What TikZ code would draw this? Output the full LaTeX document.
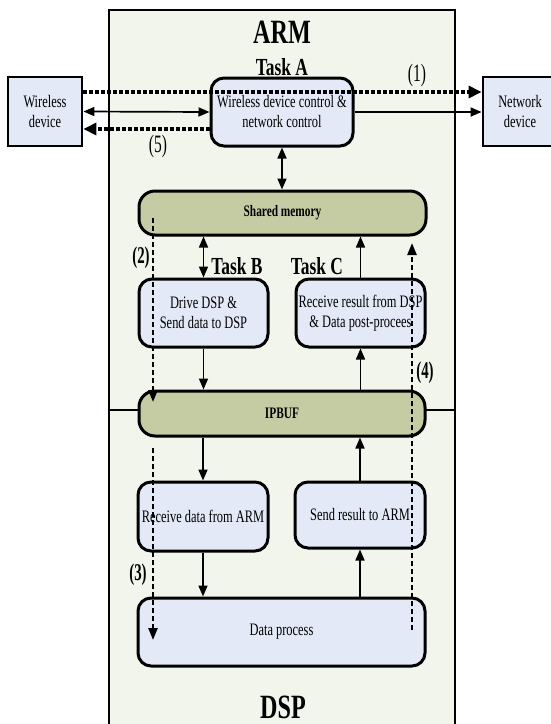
\documentclass[tikz,border=0pt]{standalone}
\usepackage{fontspec}
\setmainfont{Liberation Serif}[FakeStretch=0.71]
\newfontfamily\labfont{Liberation Serif}[FakeStretch=0.62]
\usetikzlibrary{arrows.meta,calc}
\definecolor{outerfill}{HTML}{F2F5EC}
\definecolor{boxblue}{HTML}{E3E9F6}
\definecolor{olivefill}{HTML}{C5CBA2}
\begin{document}
\begin{tikzpicture}[x=1pt,y=-1pt,
  txt/.style={font=\fontsize{17.5}{20}\selectfont, align=center, inner sep=0pt},
  sqbox/.style={draw, line width=2.8pt, fill=boxblue, txt},
  rbox/.style={draw, line width=3pt, fill=boxblue, rounded corners=13pt, txt},
  obox/.style={draw, line width=3pt, fill=olivefill, rounded corners=16pt, inner sep=0pt, font=\fontsize{16}{19}\selectfont\bfseries},
  bigtitle/.style={inner sep=0pt, font=\fontsize{34}{36}\selectfont\bfseries},
  tasktitle/.style={inner sep=0pt, font=\fontsize{24.5}{27}\selectfont\bfseries},
  numlab/.style={inner sep=0pt, font=\labfont\fontsize{25}{28}\selectfont},
  numlabb/.style={inner sep=0pt, font=\labfont\fontsize{24}{27}\selectfont\bfseries},
  sarr/.style={line width=1.7pt, -{Triangle[length=11pt,width=9pt]}},
  sdarr/.style={line width=1.7pt, {Triangle[length=11pt,width=9pt]}-{Triangle[length=11pt,width=9pt]}},
  dotarr/.style={line width=3.4pt, dash pattern=on 3.6pt off 2.4pt, -{Triangle[length=13pt,width=12pt]}},
  dasharr/.style={line width=2.4pt, dash pattern=on 5pt off 3pt, -{Triangle[length=12pt,width=9pt]}}
]
\useasboundingbox (0,0) rectangle (551,724);
\fill[white] (0,0) rectangle (551,724);
\clip (0,0) rectangle (551,724);

% container
\node[draw, line width=2.6pt, fill=outerfill, minimum width=346pt, minimum height=716pt, inner sep=0pt] (outer) at (282,368) {};
\draw[line width=2.6pt] (outer.west |- 0,410) -- (outer.east |- 0,410);

% titles
\node[bigtitle] (arm) at (282,32) {ARM};
\node[tasktitle] (tA) at (282,67) {Task A};
\node[tasktitle] (tB) at (237,266) {Task B};
\node[tasktitle] (tC) at (317,266) {Task C};
\node[bigtitle] (dsp) at (283,707) {DSP};

% boxes
\node[sqbox, minimum width=74pt, minimum height=69pt] (wd) at (45,111.5) {Wireless\\device};
\node[sqbox, minimum width=74pt, minimum height=69pt] (nd) at (520,111.5) {Network\\device};
\node[rbox, minimum width=142pt, minimum height=68pt] (ta) at (282,112) {Wireless device control \&\\network control};
\node[obox, minimum width=287pt, minimum height=44pt] (sm) at (282.5,213) {Shared memory};
\node[rbox, minimum width=129pt, minimum height=68pt] (tb) at (203.5,313) {Drive DSP \&\\Send data to DSP};
\node[rbox, minimum width=129pt, minimum height=68pt] (tc) at (360.5,313) {Receive result from DSP\\\& Data post-procees};
\node[obox, minimum width=286pt, minimum height=45pt] (ip) at (282,413.5) {IPBUF};
\node[rbox, minimum width=130pt, minimum height=69pt] (rd) at (203,516.5) {Receive data from ARM};
\node[rbox, minimum width=130pt, minimum height=66pt] (sr) at (360,515) {Send result to ARM};
\node[rbox, minimum width=287pt, minimum height=68pt] (dp) at (281.5,632) {Data process};

% number labels
\node[numlab] (l1) at (417,75) {(1)};
\node[numlab] (l5) at (158,146) {(5)};
\node[numlabb] (l2) at (141,258) {(2)};
\node[numlabb] (l3) at (138,575) {(3)};
\node[numlabb] (l4) at (425,373) {(4)};

% solid connectors
\draw[sdarr] (wd.east) -- (ta.west);
\draw[sarr] (ta.east) -- (nd.west |- ta.east);
\draw[sdarr] (ta.south) -- (ta.south |- sm.north);
\draw[sdarr] (tb.north |- sm.south) -- (tb.north);
\draw[sarr] (tc.north) -- (tc.north |- sm.south);
\draw[sarr] (tb.south) -- (tb.south |- ip.north);
\draw[sarr] (tc.south |- ip.north) -- (tc.south);
\draw[sarr] (rd.north |- ip.south) -- (rd.north);
\draw[sarr] (rd.south) -- (rd.south |- dp.north);
\draw[sarr] (sr.south |- dp.north) -- (sr.south);
\draw[sarr] (sr.north) -- (sr.north |- ip.south);

% dotted data flow
\draw[dotarr] (wd.east |- 0,92) -- (nd.west |- 0,92);
\draw[dotarr] (ta.west |- 0,129) -- (wd.east |- 0,129);

% dashed data flow
\coordinate (c2s) at (153,218);
\coordinate (c2e) at (153,402);
\coordinate (c3s) at (153,448);
\coordinate (c3e) at (153,640);
\coordinate (c4s) at (412,630);
\coordinate (c4e) at (412,243);
\draw[dasharr] (c2s) -- (c2e);
\draw[dasharr] (c3s) -- (c3e);
\draw[dasharr] (c4s) -- (c4e);
\end{tikzpicture}
\end{document}
